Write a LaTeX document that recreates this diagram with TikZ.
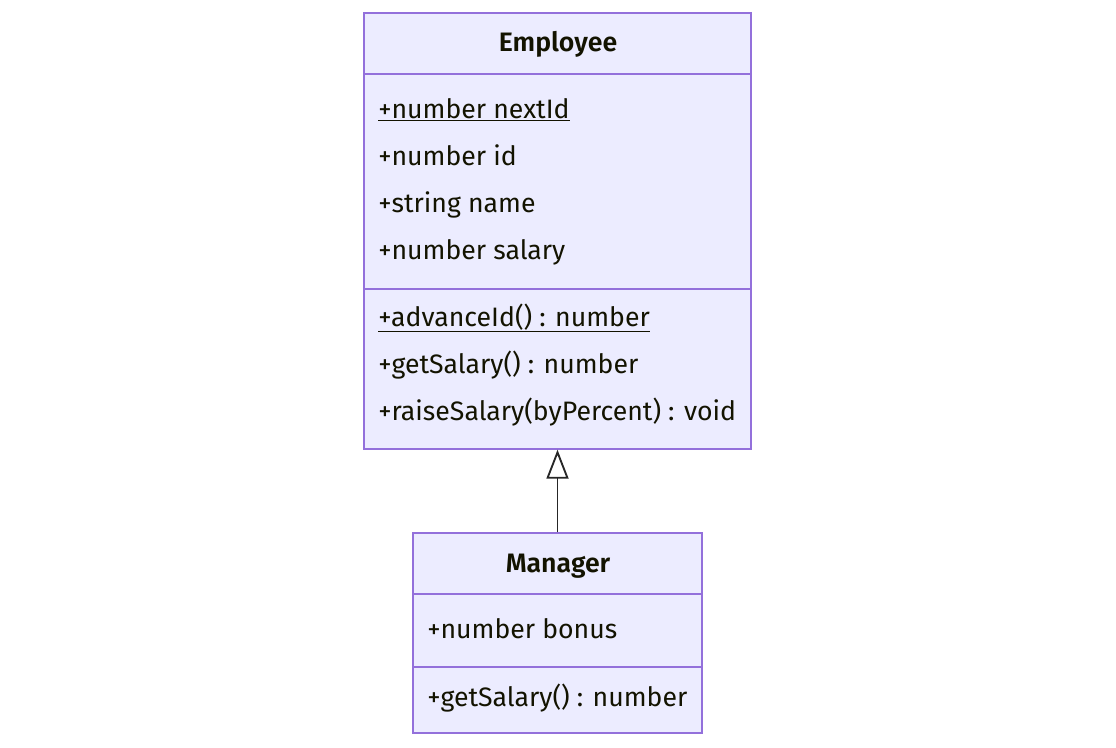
\documentclass[tikz,border=0pt]{standalone}
\usepackage{fontspec}
\setmainfont{Fira Sans}[BoldFont={Fira Sans SemiBold}]
\usetikzlibrary{positioning,fit,arrows.meta}
\definecolor{umlfill}{HTML}{ECECFF}
\definecolor{umlline}{HTML}{9370DB}
\definecolor{umltext}{HTML}{131300}
\tikzset{
  classbox/.style={draw=umlline, fill=umlfill, line width=1pt, inner sep=0pt},
  divider/.style={draw=umlline, line width=1pt},
  member/.style={anchor=base west, inner sep=0pt, text=umltext, font=\fontsize{20}{24}\selectfont},
  classname/.style={anchor=base, inner sep=0pt, text=umltext, font=\fontsize{20}{24}\selectfont\bfseries},
  inherit/.style={-{Triangle[open, width=16.5pt, length=21.75pt]}, line width=1.4pt, draw=black!85}
}
\begin{document}
\begin{tikzpicture}[x=0.75pt, y=-0.75pt]
  \useasboundingbox (0,0) rectangle (1116,747);

  % 1. class boxes
  \node[classbox, fit={(364,13) (751,449)}] (emp) {};
  \node[classbox, fit={(413,533) (702,733)}] (mgr) {};

  % 2. compartment lines
  \draw[divider] (emp.west |- 0,74) -- (emp.east |- 0,74);
  \draw[divider] (emp.west |- 0,289) -- (emp.east |- 0,289);
  \draw[divider] (mgr.west |- 0,594) -- (mgr.east |- 0,594);
  \draw[divider] (mgr.west |- 0,667) -- (mgr.east |- 0,667);

  % 3. Employee
  \node[classname] (empname) at (558,51) {Employee};
  \node[member] (nextid) at (378,118) {\underline{+number nextId}};
  \node[member] (id) at (378,165) {+number id};
  \node[member] (name) at (378,212) {+string name};
  \node[member] (salary) at (378,259) {+number salary};
  \node[member] (advance) at (378,326) {\underline{+advanceId() : number}};
  \node[member] (getsal) at (378,373) {+getSalary() : number};
  \node[member] (raise) at (378,420) {+raiseSalary(byPercent) : void};

  % 4. Manager
  \node[classname] (mgrname) at (558,572) {Manager};
  \node[member] (bonus) at (427,638) {+number bonus};
  \node[member] (mgrsal) at (427,706) {+getSalary() : number};

  % 5. generalisation
  \draw[inherit] (mgr.north) -- (emp.south);
\end{tikzpicture}
\end{document}
